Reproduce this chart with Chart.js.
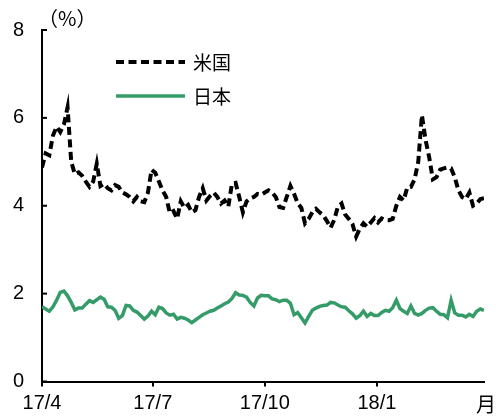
<!DOCTYPE html>
<html><head><meta charset="utf-8">
<script src="https://cdn.jsdelivr.net/npm/chart.js@4"></script>
<style>html,body{margin:0;padding:0;background:#fff}#wrap{width:496px;height:416px}</style>
</head><body><div id="wrap"><canvas id="c" width="496" height="416"></canvas></div>
<script>
// days since 2017/4/1
const days = [0,3,6,9,12,15,18,21,24,27,30,33,36,39,42,45,48,51,54,57,60,63,66,69,72,75,78,81,84,87,90,93,96,99,102,105,108,111,114,117,120,123,126,129,132,135,138,141,144,147,150,153,156,159,162,165,168,171,174,177,180,183,186,189,192,195,198,201,204,207,210,213,216,219,222,225,228,231,234,237,240,243,246,249,252,255,258,261,264,267,270,273,276,279,282,285,288,291,294,297,300,303,306,309,312,315,318,321,324,327,330,333,336,339,342,345,348,351,354,357,360,363];
const usYields = [
4.87,5.19,5.15,5.6,5.8,5.68,5.85,6.24,5.0,4.72,
4.76,4.68,4.55,4.43,4.55,4.96,4.45,4.5,4.4,4.35,
4.47,4.43,4.3,4.26,4.2,4.1,4.2,4.1,4.08,4.3,
4.82,4.75,4.55,4.35,4.2,3.83,3.88,3.71,4.1,3.95,
4.02,3.85,3.9,4.2,4.4,4.12,4.22,4.3,4.2,4.05,
4.12,3.98,4.5,4.52,4.2,3.85,4.1,4.17,4.2,4.27,
4.25,4.3,4.35,4.3,4.2,3.97,3.95,4.2,4.45,4.27,
4.06,3.95,3.6,3.7,3.85,3.93,3.85,3.78,3.65,3.5,
3.68,3.98,4.05,3.8,3.7,3.58,3.3,3.48,3.6,3.52,
3.62,3.72,3.62,3.71,3.67,3.67,3.7,4.0,4.2,4.12,
4.42,4.43,4.6,5.0,6.06,5.5,5.1,4.6,4.65,4.82,
4.85,4.87,4.85,4.65,4.35,4.2,4.15,4.3,4.0,4.05,
4.15,4.17];
const jpYields = [
1.70,1.65,1.6,1.7,1.85,2.03,2.06,1.95,1.8,1.63,
1.67,1.67,1.76,1.84,1.8,1.86,1.92,1.87,1.7,1.69,
1.62,1.44,1.5,1.73,1.72,1.62,1.58,1.5,1.42,1.49,
1.6,1.52,1.69,1.66,1.56,1.51,1.53,1.42,1.46,1.44,
1.4,1.34,1.4,1.46,1.52,1.56,1.6,1.62,1.67,1.72,
1.77,1.81,1.89,2.02,1.97,1.96,1.92,1.8,1.72,1.9,
1.96,1.95,1.95,1.88,1.86,1.82,1.85,1.85,1.78,1.52,
1.57,1.45,1.33,1.48,1.62,1.67,1.71,1.73,1.74,1.8,
1.79,1.74,1.7,1.69,1.61,1.54,1.44,1.5,1.6,1.48,
1.55,1.5,1.5,1.57,1.62,1.6,1.68,1.85,1.66,1.6,
1.55,1.72,1.55,1.51,1.55,1.62,1.67,1.68,1.6,1.53,
1.52,1.45,1.85,1.56,1.51,1.51,1.47,1.53,1.48,1.6,
1.65,1.62];
const seriesNames = ['米国','日本'];
const xTickDays = [0,91,183,275];
const xTickLabels = ['17/4','17/7','17/10','18/1'];
const yTicks = [0,2,4,6,8];
const unitLabel = '（%）';
const monthLabel = '月';

const deco = {
  id:'deco',
  afterDraw(chart){
    const ctx = chart.ctx, ys = chart.scales.y, xs = chart.scales.x;
    ctx.save();
    ctx.strokeStyle = '#000'; ctx.lineWidth = 2;
    yTicks.forEach(v => {
      const py = ys.getPixelForValue(v);
      ctx.beginPath(); ctx.moveTo(xs.left, py); ctx.lineTo(xs.left + 5, py); ctx.stroke();
    });
    ctx.fillStyle = '#000';
    ctx.textBaseline = 'middle';
    ctx.textAlign = 'left';
    ctx.font = '20px "Noto Sans CJK JP"';
    ctx.fillText(unitLabel, 38, 18);
    ctx.textAlign = 'center';
    ctx.fillText(monthLabel, 486, 404);
    ctx.font = '19px "Noto Sans CJK JP"';
    chart.data.datasets.forEach((ds, i) => {
      const ly = 62 + i * 34;
      ctx.beginPath();
      ctx.setLineDash(ds.borderDash || []);
      ctx.strokeStyle = ds.borderColor; ctx.lineWidth = ds.borderWidth;
      ctx.moveTo(116, ly); ctx.lineTo(185, ly); ctx.stroke();
      ctx.setLineDash([]);
      ctx.fillStyle = '#000'; ctx.textAlign = 'left';
      ctx.fillText(ds.label, 193, ly + 1);
    });
    ctx.restore();
  }
};

new Chart(document.getElementById('c'), {
  type:'line',
  data:{
    datasets:[
      {label:seriesNames[0], data:days.map((d,i)=>({x:d,y:usYields[i]})), borderColor:'#000', borderWidth:4, borderDash:[8,4.5], pointRadius:0, tension:0, fill:false},
      {label:seriesNames[1], data:days.map((d,i)=>({x:d,y:jpYields[i]})), borderColor:'#359b68', borderWidth:3.5, pointRadius:0, tension:0, fill:false}
    ]
  },
  options:{
    responsive:false, animation:false, devicePixelRatio:1,
    layout:{padding:{top:30,right:12,left:0,bottom:0}},
    plugins:{legend:{display:false}, tooltip:{enabled:false}},
    scales:{
      x:{type:'linear', min:0, max:363,
        afterBuildTicks(s){ s.ticks = xTickDays.map(v=>({value:v})); },
        afterFit(s){ s.height = 34.5; },
        ticks:{autoSkip:false, maxRotation:0, padding:5, color:'#000', font:{family:'"Liberation Sans"', size:20},
          callback(v){ const i = xTickDays.indexOf(v); return i>=0 ? xTickLabels[i] : ''; }},
        grid:{drawOnChartArea:false, drawTicks:true, tickLength:5, color:'#000', lineWidth:2},
        border:{display:true, color:'#000', width:2}
      },
      y:{min:0, max:8,
        afterBuildTicks(s){ s.ticks = yTicks.map(v=>({value:v})); },
        afterFit(s){ s.width = 42; },
        ticks:{padding:18, color:'#000', font:{family:'"Liberation Sans"', size:20}},
        grid:{drawOnChartArea:false, drawTicks:false},
        border:{display:true, color:'#000', width:2}
      }
    }
  },
  plugins:[deco]
});
</script></body></html>
